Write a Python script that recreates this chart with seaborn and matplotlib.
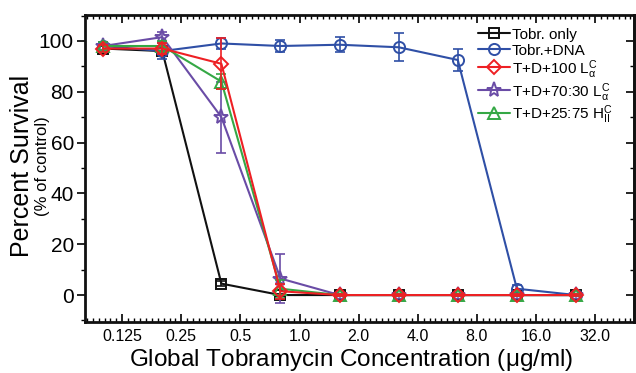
import numpy as np
import pandas as pd
import matplotlib
matplotlib.use("Agg")
import matplotlib.pyplot as plt
import seaborn as sns
from matplotlib.ticker import FixedLocator, NullFormatter

# data
conc = [0.1, 0.2, 0.4, 0.8, 1.6, 3.2, 6.4, 12.8, 25.6]
tobr_only = [97, 96, 4.5, 0, 0, 0, 0, 0, 0]
tobr_only_err = [1, 1.5, 1, 0.5, 0, 0, 0, 0, 0]
tobr_dna = [98, 96, 99, 98, 98.5, 97.5, 92.5, 2.5, 0]
tobr_dna_err = [1.5, 3, 2, 2.5, 3, 5.5, 4.5, 1.5, 0.5]
td_100 = [97, 97, 91, 1.5, 0, 0, 0, 0, 0]
td_100_err = [1.5, 2, 10, 3, 0.5, 0.5, 0.5, 0.5, 0.5]
td_7030 = [98, 101.5, 70, 6.5, 0, 0, 0, 0, 0]
td_7030_err = [1.5, 2, 14, 9.5, 0.5, 0.5, 0.5, 0.5, 0.5]
td_2575 = [98, 98, 84, 2.5, 0, 0, 0, 0, 0]
td_2575_err = [1.5, 2, 3, 3.5, 0.5, 0.5, 0.5, 0.5, 0.5]

xticks = [0.125, 0.25, 0.5, 1.0, 2.0, 4.0, 8.0, 16.0, 32.0]
xticklabels = ["0.125", "0.25", "0.5", "1.0", "2.0", "4.0", "8.0", "16.0", "32.0"]

sns.set_style("ticks")
plt.rcParams["font.family"] = ["Liberation Sans", "DejaVu Sans"]
plt.rcParams["mathtext.fontset"] = "custom"
plt.rcParams["mathtext.rm"] = "Liberation Sans"
plt.rcParams["mathtext.it"] = "Liberation Sans:italic"
plt.rcParams["mathtext.cal"] = "DejaVu Sans"
plt.rcParams["text.color"] = "black"
plt.rcParams["xtick.color"] = "black"
plt.rcParams["ytick.color"] = "black"
plt.rcParams["axes.labelcolor"] = "black"

series = [
    ("Tobr. only", tobr_only, tobr_only_err, "#111111", "s", 2, 7),
    ("Tobr.+DNA", tobr_dna, tobr_dna_err, "#2f4fa6", "o", 3, 8),
    ("T+D+100 L$_{\\mathrm{\\alpha}}^{\\mathrm{C}}$", td_100, td_100_err, "#ee2024", "D", 6, 7.5),
    ("T+D+70:30 L$_{\\mathrm{\\alpha}}^{\\mathrm{C}}$", td_7030, td_7030_err, "#6a4ca6", "*", 4, 11),
    ("T+D+25:75 H$_{\\mathrm{II}}^{\\mathrm{C}}$", td_2575, td_2575_err, "#35a845", "^", 5, 8),
]

fig = plt.figure(figsize=(6.36, 3.73), dpi=100)
ax = fig.add_axes([85 / 636, 1 - 322 / 373, (634 - 85) / 636, (322 - 15) / 373])

for label, y, err, col, mk, z, ms in series:
    df = pd.DataFrame({"x": conc, "y": y})
    sns.lineplot(data=df, x="x", y="y", ax=ax, color=col, marker=mk,
                 markersize=ms, markerfacecolor="none", markeredgecolor=col,
                 markeredgewidth=1.4, linewidth=1.5, zorder=z, label=label)
    ax.errorbar(conc, y, yerr=err, fmt="none", ecolor=col, elinewidth=1.2,
                capsize=3.5, capthick=1.2, zorder=z)

ax.set_xscale("log", base=2)
ax.set_xlim(0.125 * 2 ** -0.63, 0.125 * 2 ** 8.66)
ax.set_ylim(-10.6, 110.2)

ax.set_xticks(xticks, xticklabels)
minor_x = [2 ** (k / 10) for k in range(-50, 70) if k % 10 != 0]
ax.xaxis.set_minor_locator(FixedLocator(minor_x))
ax.xaxis.set_minor_formatter(NullFormatter())
ax.set_yticks([0, 20, 40, 60, 80, 100])
ax.yaxis.set_minor_locator(FixedLocator([-10, 10, 30, 50, 70, 90, 110]))

ax.tick_params(axis="x", which="both", direction="in", top=True, labelsize=11.5, pad=5)
ax.tick_params(axis="x", which="major", length=6, width=1.2)
ax.tick_params(axis="x", which="minor", length=3, width=1)
ax.tick_params(axis="y", which="both", direction="out", labelsize=15, pad=2)
ax.tick_params(axis="y", which="major", length=6, width=1.2)
ax.tick_params(axis="y", which="minor", length=3, width=1)

sec = ax.secondary_yaxis("right")
sec.set_yticks([0, 20, 40, 60, 80, 100])
sec.yaxis.set_minor_locator(FixedLocator([10, 30, 50, 70, 90]))
sec.tick_params(axis="y", which="both", direction="in", labelright=False)
sec.tick_params(axis="y", which="major", length=6, width=1.2)
sec.tick_params(axis="y", which="minor", length=3, width=1)

for s in ax.spines.values():
    s.set_linewidth(2)
    s.set_color("#111111")
sec.spines["right"].set_linewidth(2)

ax.set_xlabel("Global Tobramycin Concentration ($\\mathrm{\\mu}$g/ml)", fontsize=17.5)
ax.xaxis.set_label_coords(0.485, -0.08)
ax.set_ylabel("")
fig.text(22 / 636, 1 - 166 / 373, "Percent Survival", rotation=90, fontsize=18,
         ha="center", va="center")
fig.text(43 / 636, 1 - 166 / 373, "(% of control)", rotation=90, fontsize=12,
         ha="center", va="center")

h, l = ax.get_legend_handles_labels()
ax.legend(h, l, loc="upper left", bbox_to_anchor=(478 / 636, 1 - 26 / 373),
          bbox_transform=fig.transFigure, frameon=False, fontsize=11,
          handlelength=2.1, handleheight=1.25, handletextpad=0.1,
          labelspacing=0.0, borderpad=0, borderaxespad=0)

fig.savefig("out.png", dpi=100)
